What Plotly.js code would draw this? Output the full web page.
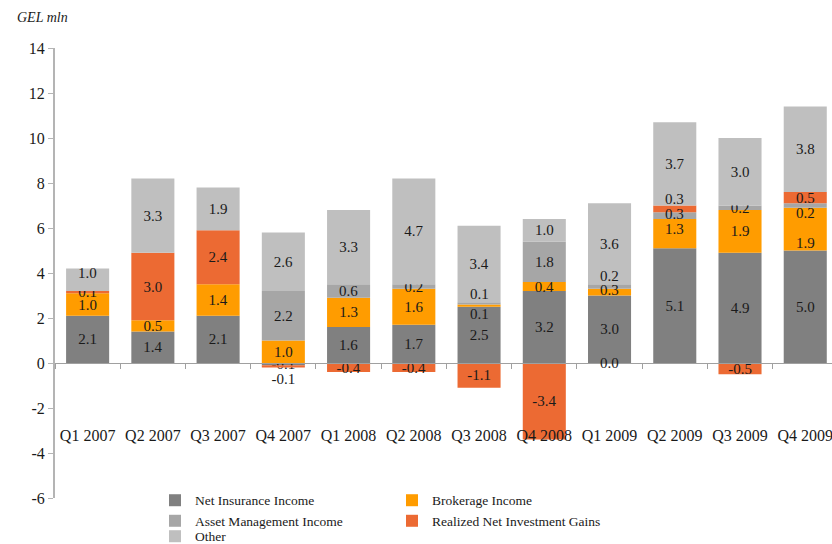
<!DOCTYPE html>
<html>
<head>
<meta charset="utf-8">
<script src="https://cdn.plot.ly/plotly-3.0.1.min.js"></script>
<style>
  html, body { margin: 0; padding: 0; background: #fff; }
  #chart { width: 832px; height: 544px; }
</style>
</head>
<body>
<div id="chart"></div>
<script>
const quarters = ['Q1 2007', 'Q2 2007', 'Q3 2007', 'Q4 2007', 'Q1 2008', 'Q2 2008',
  'Q3 2008', 'Q4 2008', 'Q1 2009', 'Q2 2009', 'Q3 2009', 'Q4 2009'];

const netInsurance = [2.1, 1.4, 2.1, -0.1, 1.6, 1.7, 2.5, 3.2, 3.0, 5.1, 4.9, 5.0];
const brokerage = [1.0, 0.5, 1.4, 1.0, 1.3, 1.6, 0.1, 0.4, 0.3, 1.3, 1.9, 1.9];
const assetMgmt = [0.0, 0.0, 0.0, 2.2, 0.6, 0.2, 0.1, 1.8, 0.2, 0.3, 0.2, 0.2];
const realizedGains = [0.1, 3.0, 2.4, -0.1, -0.4, -0.4, -1.1, -3.4, 0.0, 0.3, -0.5, 0.5];
const other = [1.0, 3.3, 1.9, 2.6, 3.3, 4.7, 3.4, 1.0, 3.6, 3.7, 3.0, 3.8];

const yTicks = [-6, -4, -2, 0, 2, 4, 6, 8, 10, 12, 14];
const yTickText = ['-6', '-4', '-2', '0', '2', '4', '6', '8', '10', '12', '14'];

const serif = 'Liberation Serif';
const ink = '#1a1a1a';

// labels of thin segments sit off-centre in the original, to avoid overlapping
const nudged = [
  { s: 'brokerage', q: 'Q3 2008', y: 2.2 },
  { s: 'assetMgmt', q: 'Q3 2008', y: 3.07 },
  { s: 'brokerage', q: 'Q1 2009', y: 3.24 },
  { s: 'assetMgmt', q: 'Q1 2009', y: 3.87 },
  { s: 'realizedGains', q: 'Q1 2009', y: 0 },
  { s: 'brokerage', q: 'Q2 2009', y: 5.96 },
  { s: 'assetMgmt', q: 'Q2 2009', y: 6.62 },
  { s: 'realizedGains', q: 'Q2 2009', y: 7.29 },
  { s: 'brokerage', q: 'Q4 2009', y: 5.33 },
  { s: 'assetMgmt', q: 'Q4 2009', y: 6.67 },
  { s: 'other', q: 'Q1 2007', y: 4.0 }
];
const byKey = { netInsurance, brokerage, assetMgmt, realizedGains, other };

function labels(key) {
  return byKey[key].map((v, i) => {
    if (nudged.some((n) => n.s === key && n.q === quarters[i])) return '';
    return v === 0 ? '' : v.toFixed(1);
  });
}

function series(name, key, color, extra) {
  return Object.assign({
    type: 'bar', name, x: quarters, y: byKey[key],
    marker: { color, line: { width: 0 } },
    text: labels(key),
    textposition: 'inside',
    insidetextanchor: 'middle',
    textangle: 0,
    constraintext: 'none',
    textfont: { family: serif, size: 15, color: ink },
    outsidetextfont: { family: serif, size: 15, color: ink },
    hoverinfo: 'x+y+name'
  }, extra || {});
}

// the small realized loss in Q4 2007 is labelled beneath the bar
const realizedPos = quarters.map((q) => (q === 'Q4 2007' ? 'outside' : 'inside'));

// legend laid out as two columns plus a third row
const traces = [
  series('Net Insurance Income', 'netInsurance', '#808080', { legend: 'legend' }),
  series('Brokerage Income', 'brokerage', '#ff9c00', { legend: 'legend2' }),
  series('Asset Management Income', 'assetMgmt', '#a6a6a6', { legend: 'legend' }),
  series('Realized Net Investment Gains', 'realizedGains', '#ec6a33', { legend: 'legend2', textposition: realizedPos }),
  series('Other', 'other', '#bfbfbf', { legend: 'legend3' })
];

const legendBase = {
  orientation: 'v',
  yanchor: 'top', y: 0.029,
  xanchor: 'left',
  itemwidth: 30,
  traceorder: 'normal',
  bgcolor: 'rgba(0,0,0,0)',
  font: { family: serif, size: 13.5, color: ink }
};

const nudgeNotes = nudged.map((n) => ({
  text: byKey[n.s][quarters.indexOf(n.q)].toFixed(1),
  xref: 'x', yref: 'y', x: n.q, y: n.y,
  xanchor: 'center', yanchor: 'middle', showarrow: false,
  font: { family: serif, size: 15, color: ink }
}));

const layout = {
  width: 832, height: 544,
  paper_bgcolor: '#fff', plot_bgcolor: 'rgba(0,0,0,0)',
  margin: { l: 55, r: 0, t: 48, b: 46, autoexpand: false },
  font: { family: serif, size: 15, color: ink },
  barmode: 'relative',
  bargap: 0.34,
  showlegend: true,
  xaxis: {
    type: 'category',
    range: [-0.5, 11.41],
    anchor: 'free', position: 0.3,
    showline: true, linecolor: '#a0a0a0', linewidth: 1,
    ticks: 'outside', tickson: 'boundaries', ticklen: 5, tickcolor: '#a0a0a0',
    ticklabelstandoff: 58,
    tickfont: { family: serif, size: 16, color: ink },
    showgrid: false, zeroline: false, fixedrange: true
  },
  yaxis: {
    range: [-6, 14],
    tickmode: 'array', tickvals: yTicks, ticktext: yTickText,
    showline: true, linecolor: '#b4b4b4', linewidth: 2,
    ticks: 'outside', ticklen: 5, tickcolor: '#b4b4b4',
    tickfont: { family: serif, size: 16, color: ink },
    showgrid: false, zeroline: false, fixedrange: true
  },
  legend: Object.assign({}, legendBase, { x: 0.1287 }),
  legend2: Object.assign({}, legendBase, { x: 0.4337 }),
  legend3: Object.assign({}, legendBase, { x: 0.1287, y: -0.051 }),
  annotations: [
    { text: '<i>GEL mln</i>', xref: 'paper', yref: 'paper', x: -0.052, y: 1.067,
      xanchor: 'left', yanchor: 'middle', showarrow: false,
      font: { family: serif, size: 14, color: ink } }
  ].concat(nudgeNotes)
};

Plotly.newPlot('chart', traces, layout, { displayModeBar: false, staticPlot: true });
</script>
</body>
</html>
